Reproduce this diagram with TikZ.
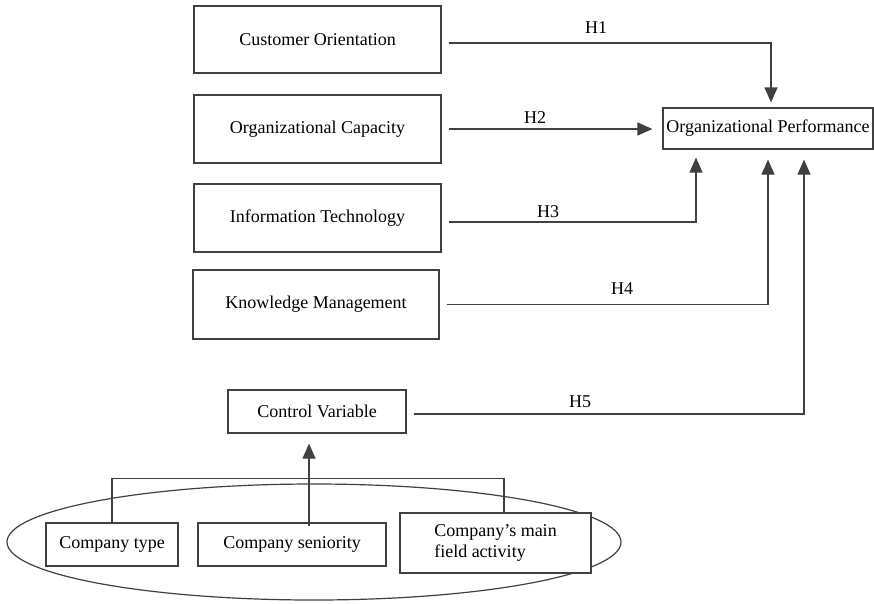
\documentclass[tikz,border=0pt]{standalone}
\usepackage{fontspec}
\setmainfont{Liberation Serif}
\usetikzlibrary{arrows.meta}

\begin{document}
\begin{tikzpicture}[x=1pt,y=-1pt,
	box/.style={draw=black!75,line width=1.2pt,fill=white,inner sep=0pt,font=\fontsize{18}{21}\selectfont},
	hyp/.style={draw=black!75,line width=1.2pt,-{Triangle[length=15pt,width=13pt]},shorten <=7pt,shorten >=8pt},
	link/.style={draw=black!75,line width=1.2pt},
	hlab/.style={font=\fontsize{18}{21}\selectfont}]
	\useasboundingbox (0,0) rectangle (874,603);
	
	% control variables group
	\draw[link] (314,542) ellipse (307pt and 58pt);
	
	\node[box,minimum width=247pt,minimum height=67pt] (cust) at (317.5,39.5) {Customer Orientation};
	\node[box,minimum width=247pt,minimum height=68pt] (orgcap) at (317.5,129) {Organizational Capacity};
	\node[box,minimum width=247pt,minimum height=68pt] (infotech) at (317.5,218) {Information Technology};
	\node[box,minimum width=246pt,minimum height=69pt] (knowman) at (316,304.5) {Knowledge Management};
	\node[box,minimum width=178pt,minimum height=43pt] (ctrl) at (317,411.5) {Control Variable};
	\node[box,minimum width=210pt,minimum height=41pt] (perf) at (768,128.5) {Organizational Performance};
	
	\node[box,minimum width=132pt,minimum height=43pt] (ctype) at (112,544.5) {Company type};
	\node[box,minimum width=188pt,minimum height=43pt] (csen) at (292,544.5) {Company seniority};
	\node[box,minimum width=191pt,minimum height=60pt,align=left] (cmain) at (495.5,543) {Company's main\\field activity};
	
	% hypotheses
	\draw[hyp,shorten >=5pt] ([yshift=-3.5pt]cust.east) -| ([xshift=3pt]perf.north);
	\draw[hyp,shorten >=10pt] (orgcap.east) -- (orgcap.east -| perf.west);
	\draw[hyp] ([yshift=-4pt]infotech.east) -| ([xshift=-72pt]perf.south);
	\draw[hyp,shorten >=10pt] (knowman.east) -| (perf.south);
	\draw[hyp,shorten >=10pt] ([yshift=-2.5pt]ctrl.east) -| ([xshift=36pt]perf.south);
	
	\node[hlab] (h1) at (596,28) {H1};
	\node[hlab] (h2) at (535,118) {H2};
	\node[hlab] (h3) at (548,212) {H3};
	\node[hlab] (h4) at (622,289) {H4};
	\node[hlab] (h5) at (580,402) {H5};
	
	% bracket and arrow to control variable
	\draw[link] (ctype.north) -- ++(0,-44) -| ([xshift=8.5pt]cmain.north);
	\draw[hyp,shorten <=-4pt,shorten >=10pt] ([xshift=17pt]csen.north) -- ([xshift=17pt]csen.north |- ctrl.south);
\end{tikzpicture}
\end{document}
